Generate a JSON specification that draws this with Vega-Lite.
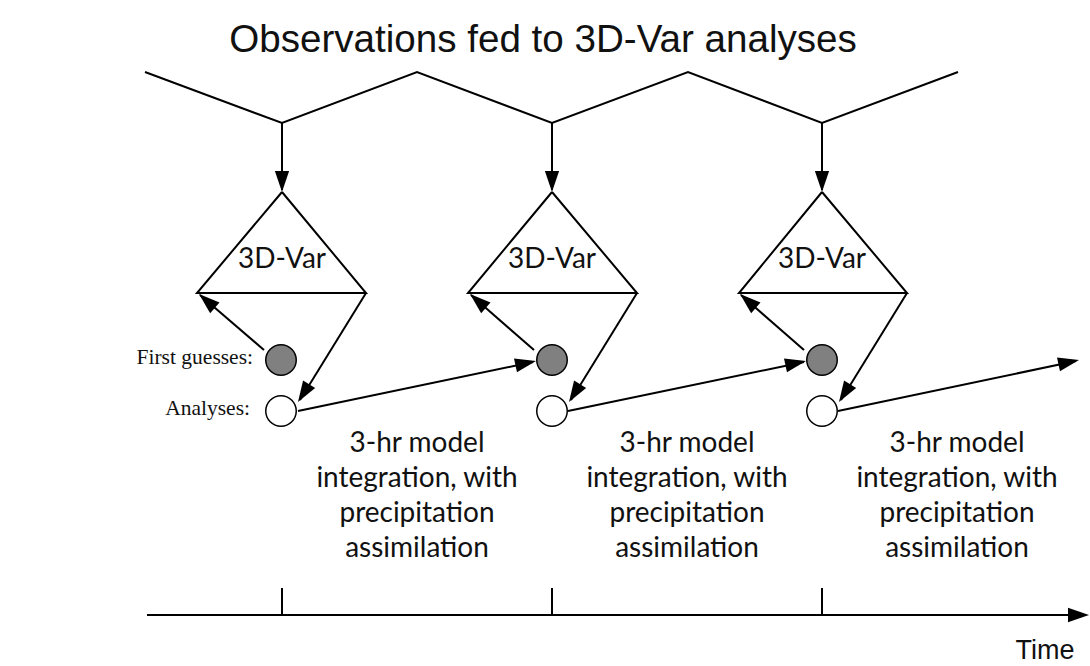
{
  "$schema": "https://vega.github.io/schema/vega-lite/v6.json",
  "width": 1090,
  "height": 666,
  "padding": 0,
  "autosize": {"type": "fit", "contains": "padding"},
  "background": "white",
  "config": {"view": {"stroke": null}},
  "datasets": {
    "lines": [
      {"seg": "zig", "ord": 1, "x": 145, "y": 72},
      {"seg": "zig", "ord": 2, "x": 282, "y": 123},
      {"seg": "zig", "ord": 3, "x": 417, "y": 72},
      {"seg": "zig", "ord": 4, "x": 552, "y": 123},
      {"seg": "zig", "ord": 5, "x": 688, "y": 72},
      {"seg": "zig", "ord": 6, "x": 822, "y": 123},
      {"seg": "zig", "ord": 7, "x": 958, "y": 72},
      {"seg": "v1", "ord": 1, "x": 282, "y": 123},
      {"seg": "v1", "ord": 2, "x": 282, "y": 190},
      {"seg": "v2", "ord": 1, "x": 552, "y": 123},
      {"seg": "v2", "ord": 2, "x": 552, "y": 190},
      {"seg": "v3", "ord": 1, "x": 822, "y": 123},
      {"seg": "v3", "ord": 2, "x": 822, "y": 190},
      {"seg": "tri1", "ord": 1, "x": 282, "y": 192},
      {"seg": "tri1", "ord": 2, "x": 197, "y": 293},
      {"seg": "tri1", "ord": 3, "x": 366, "y": 293},
      {"seg": "tri1", "ord": 4, "x": 282, "y": 192},
      {"seg": "tri2", "ord": 1, "x": 552, "y": 192},
      {"seg": "tri2", "ord": 2, "x": 468, "y": 293},
      {"seg": "tri2", "ord": 3, "x": 637, "y": 293},
      {"seg": "tri2", "ord": 4, "x": 552, "y": 192},
      {"seg": "tri3", "ord": 1, "x": 822, "y": 192},
      {"seg": "tri3", "ord": 2, "x": 739, "y": 293},
      {"seg": "tri3", "ord": 3, "x": 907, "y": 293},
      {"seg": "tri3", "ord": 4, "x": 822, "y": 192},
      {"seg": "g1", "ord": 1, "x": 264, "y": 350},
      {"seg": "g1", "ord": 2, "x": 200, "y": 295},
      {"seg": "g2", "ord": 1, "x": 534, "y": 350},
      {"seg": "g2", "ord": 2, "x": 471, "y": 295},
      {"seg": "g3", "ord": 1, "x": 804, "y": 350},
      {"seg": "g3", "ord": 2, "x": 741, "y": 295},
      {"seg": "r1", "ord": 1, "x": 366, "y": 293},
      {"seg": "r1", "ord": 2, "x": 300, "y": 400},
      {"seg": "r2", "ord": 1, "x": 637, "y": 293},
      {"seg": "r2", "ord": 2, "x": 571, "y": 400},
      {"seg": "r3", "ord": 1, "x": 907, "y": 293},
      {"seg": "r3", "ord": 2, "x": 841, "y": 400},
      {"seg": "a1", "ord": 1, "x": 298, "y": 411},
      {"seg": "a1", "ord": 2, "x": 533, "y": 362},
      {"seg": "a2", "ord": 1, "x": 568, "y": 411},
      {"seg": "a2", "ord": 2, "x": 804, "y": 362},
      {"seg": "a3", "ord": 1, "x": 838, "y": 411},
      {"seg": "a3", "ord": 2, "x": 1076, "y": 361},
      {"seg": "time", "ord": 1, "x": 147, "y": 615},
      {"seg": "time", "ord": 2, "x": 1086, "y": 615},
      {"seg": "t1", "ord": 1, "x": 282, "y": 588},
      {"seg": "t1", "ord": 2, "x": 282, "y": 615},
      {"seg": "t2", "ord": 1, "x": 552, "y": 588},
      {"seg": "t2", "ord": 2, "x": 552, "y": 615},
      {"seg": "t3", "ord": 1, "x": 822, "y": 588},
      {"seg": "t3", "ord": 2, "x": 822, "y": 615}
    ],
    "heads": [
      {"x": 282, "y": 192, "dir": 180},
      {"x": 552, "y": 192, "dir": 180},
      {"x": 822, "y": 192, "dir": 180},
      {"x": 199, "y": 294, "dir": 311},
      {"x": 470, "y": 294, "dir": 311},
      {"x": 740, "y": 294, "dir": 311},
      {"x": 298, "y": 402, "dir": 212},
      {"x": 569, "y": 402, "dir": 212},
      {"x": 839, "y": 402, "dir": 212},
      {"x": 536, "y": 361, "dir": 78},
      {"x": 806, "y": 361, "dir": 78},
      {"x": 1079, "y": 360, "dir": 78},
      {"x": 1089, "y": 615, "dir": 90}
    ],
    "nodes": [
      {"kind": "First guess", "x": 281, "y": 360},
      {"kind": "First guess", "x": 552, "y": 360},
      {"kind": "First guess", "x": 822, "y": 360},
      {"kind": "Analysis", "x": 281, "y": 411},
      {"kind": "Analysis", "x": 552, "y": 411},
      {"kind": "Analysis", "x": 822, "y": 411}
    ],
    "var": [
      {"label": "3D-Var", "x": 552, "y": 260},
      {"label": "3D-Var", "x": 282, "y": 260},
      {"label": "3D-Var", "x": 822, "y": 260}
    ],
    "side": [
      {"label": "First guesses:", "x": 253, "y": 358},
      {"label": "Analyses:", "x": 250, "y": 409}
    ],
    "body": [
      {"label": "3-hr model\nintegration, with\nprecipitation\nassimilation", "x": 417, "y": 452},
      {"label": "3-hr model\nintegration, with\nprecipitation\nassimilation", "x": 687, "y": 452},
      {"label": "3-hr model\nintegration, with\nprecipitation\nassimilation", "x": 957, "y": 452}
    ],
    "title": [
      {"label": "Observations fed to 3D-Var analyses", "x": 543, "y": 40}
    ],
    "timelabel": [
      {"label": "Time", "x": 1045, "y": 651}
    ]
  },
  "encoding": {
    "x": {"field": "x", "type": "quantitative", "scale": {"domain": [0, 1090], "nice": false, "zero": false}, "axis": null},
    "y": {"field": "y", "type": "quantitative", "scale": {"domain": [0, 666], "nice": false, "zero": false, "reverse": true}, "axis": null}
  },
  "layer": [
    {
      "data": {"name": "lines"},
      "mark": {"type": "line", "stroke": "black", "strokeWidth": 2, "strokeJoin": "miter", "strokeCap": "butt"},
      "encoding": {
        "detail": {"field": "seg", "type": "nominal"},
        "order": {"field": "ord", "type": "quantitative"}
      }
    },
    {
      "data": {"name": "heads"},
      "mark": {"type": "point", "filled": true, "fill": "black", "opacity": 1, "strokeWidth": 0, "shape": "M0,0L0.68,2L-0.68,2Z", "size": 440},
      "encoding": {
        "angle": {"field": "dir", "type": "quantitative", "scale": null}
      }
    },
    {
      "data": {"name": "nodes"},
      "mark": {"type": "point", "shape": "circle", "filled": true, "opacity": 1, "stroke": "black", "strokeWidth": 1.5, "size": 930},
      "encoding": {
        "fill": {"field": "kind", "type": "nominal", "scale": {"domain": ["First guess", "Analysis"], "range": ["#808080", "#ffffff"]}, "legend": null}
      }
    },
    {
      "data": {"name": "var"},
      "mark": {"type": "text", "font": "Lato", "fontSize": 28, "align": "center", "baseline": "middle", "color": "#111"},
      "encoding": {"text": {"field": "label"}}
    },
    {
      "data": {"name": "side"},
      "mark": {"type": "text", "font": "Liberation Serif", "fontSize": 21.5, "align": "right", "baseline": "middle", "color": "#111"},
      "encoding": {"text": {"field": "label"}}
    },
    {
      "data": {"name": "body"},
      "mark": {"type": "text", "font": "Lato", "fontSize": 28, "align": "center", "baseline": "alphabetic", "lineBreak": "\n", "lineHeight": 35, "color": "#111"},
      "encoding": {"text": {"field": "label"}}
    },
    {
      "data": {"name": "title"},
      "mark": {"type": "text", "font": "Liberation Sans", "fontSize": 38.6, "align": "center", "baseline": "middle", "color": "#111"},
      "encoding": {"text": {"field": "label"}}
    },
    {
      "data": {"name": "timelabel"},
      "mark": {"type": "text", "font": "Liberation Sans", "fontSize": 27, "align": "center", "baseline": "middle", "color": "#111"},
      "encoding": {"text": {"field": "label"}}
    }
  ]
}
